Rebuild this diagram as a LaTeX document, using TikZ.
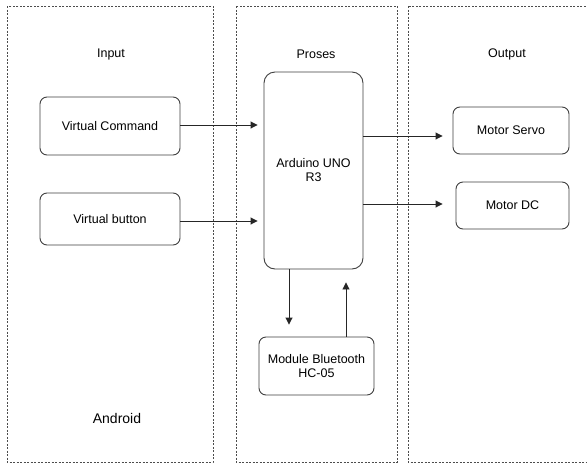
\documentclass[tikz,border=0pt]{standalone}
\usepackage{fontspec}
\setmainfont{Liberation Sans}
\usetikzlibrary{arrows.meta}
\begin{document}
\begin{tikzpicture}[x=1pt,y=-1pt,
  panel/.style={draw=black!70,line width=0.7pt,dash pattern=on 2pt off 1.5pt},
  box/.style={draw=black!75,line width=0.9pt,rounded corners=7pt,align=center,font=\fontsize{12.5}{14}\selectfont},
  lbl/.style={font=\fontsize{12.5}{14}\selectfont},
  conn/.style={draw=black!85,line width=0.9pt,-{Triangle[length=7pt,width=7pt]}}]
\useasboundingbox (0,0) rectangle (587,464);
\fill[white] (0,0) rectangle (587,464);
% panels
\draw[panel] (7,6) rectangle (213,462);
\draw[panel] (236,6) rectangle (397,462);
\draw[panel] (408,6) rectangle (592,462);
% titles
\node[lbl] (tin) at (111,54) {Input};
\node[lbl] (tpro) at (316,54) {Proses};
\node[lbl] (tout) at (507,54) {Output};
\node[font=\fontsize{14}{16}\selectfont] (android) at (117,418) {Android};
% boxes
\node[box,minimum width=140pt,minimum height=58pt] (vc) at (110,126) {Virtual Command};
\node[box,minimum width=140pt,minimum height=52pt] (vb) at (110,219) {Virtual button};
\node[box,minimum width=99pt,minimum height=197pt,rounded corners=11pt] (ard) at (313.5,170.5) {Arduino UNO\\R3};
\node[box,minimum width=116pt,minimum height=47pt] (ms) at (511,130.5) {Motor Servo};
\node[box,minimum width=113pt,minimum height=47pt] (md) at (512.5,205.5) {Motor DC};
\node[box,minimum width=115pt,minimum height=58pt,inner sep=0pt] (bt) at (316.5,366) {Module Bluetooth\\HC-05};
% connectors
\draw[conn,shorten >=6pt] (vc.east |- 0,125) -- (ard.west |- 0,125);
\draw[conn,shorten >=6pt] (vb.east |- 0,221) -- (ard.west |- 0,221);
\draw[conn,shorten >=10pt] (ard.east |- 0,136) -- (ms.west |- 0,136);
\draw[conn,shorten >=13pt] (ard.east |- 0,204) -- (md.west |- 0,204);
\draw[conn,shorten >=12pt] (ard.south -| 289,0) -- (bt.north -| 289,0);
\draw[conn,shorten >=13pt] (bt.north -| 346,0) -- (ard.south -| 346,0);
\end{tikzpicture}
\end{document}
